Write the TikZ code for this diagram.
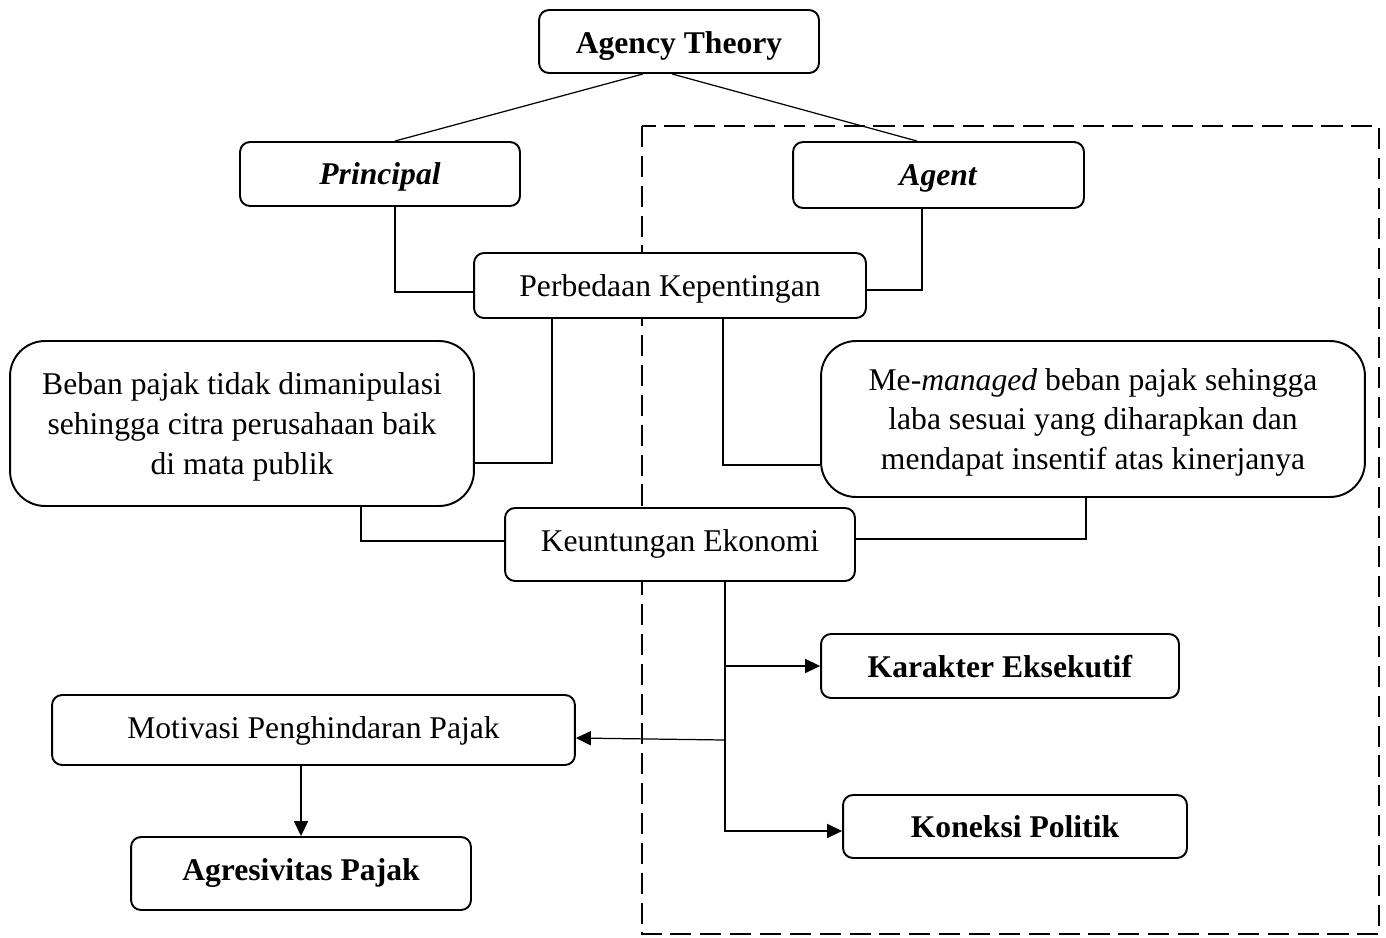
\documentclass[tikz,border=0pt]{standalone}
\usepackage{fontspec}
\setmainfont{Liberation Serif}
\usetikzlibrary{arrows.meta,calc}
\tikzset{
  bx/.style={draw, line width=1.1pt, rounded corners=0.2cm, fill=white, inner sep=0pt, align=center, font=\fontsize{18}{22.7}\selectfont},
  bigbx/.style={bx, rounded corners=0.7cm, text depth=0pt},
  tb/.style={text height=#1, text depth=0pt},
  conn/.style={line width=0.7pt},
  arr/.style={conn, -{Triangle[length=8.5pt,width=8pt]}},
  dashbox/.style={line width=1.5pt, dash pattern=on 12pt off 5pt}
}
\begin{document}
\begin{tikzpicture}[x=0.02cm,y=-0.02cm]
\useasboundingbox (0,0) rectangle (1386,937);
\draw[dashbox] (642,126) rectangle (1379,934);

\node[bx, tb=14.2pt, minimum width=5.6cm, minimum height=1.26cm] (at) at (679,41.5) {\textbf{Agency Theory}};
\node[bx, tb=12.5pt, minimum width=5.6cm, minimum height=1.28cm] (pr) at (380,174) {\textbf{\textit{Principal}}};
\node[bx, tb=11.5pt, minimum width=5.82cm, minimum height=1.32cm] (ag) at (938.5,175) {\textbf{\textit{Agent}}};
\node[bx, tb=13pt, minimum width=7.84cm, minimum height=1.3cm] (pk) at (670,285.5) {Perbedaan Kepentingan};
\node[bigbx, minimum width=9.28cm, minimum height=3.3cm] (bb) at (242,423.5) {Beban pajak tidak dimanipulasi\\sehingga citra perusahaan baik\\di mata publik};
\node[bigbx, minimum width=10.88cm, minimum height=3.12cm] (mm) at (1093,419) {Me-\textit{managed} beban pajak sehingga\\laba sesuai yang diharapkan dan\\mendapat insentif atas kinerjanya};
\node[bx, tb=8.5pt, minimum width=7cm, minimum height=1.46cm] (ke) at (680,544.5) {Keuntungan Ekonomi};
\node[bx, tb=13.6pt, minimum width=7.16cm, minimum height=1.28cm] (kr) at (1000,666) {\textbf{Karakter Eksekutif}};
\node[bx, tb=12.5pt, minimum width=6.88cm, minimum height=1.26cm] (kp) at (1015,826.5) {\textbf{Koneksi Politik}};
\node[bx, tb=9.1pt, minimum width=10.46cm, minimum height=1.4cm] (mo) at (313.5,730) {Motivasi Penghindaran Pajak};
\node[bx, tb=8.5pt, minimum width=6.8cm, minimum height=1.46cm] (agr) at (301,873.5) {\textbf{Agresivitas Pajak}};

\draw[conn] ([xshift=-0.72cm]at.south) -- ([xshift=0.3cm]pr.north);
\draw[conn] ([xshift=-0.14cm]at.south) -- ([xshift=-0.43cm]ag.north);
\draw[conn] ([xshift=0.3cm]pr.south) |- ([yshift=-0.13cm]pk.west);
\draw[conn] ([xshift=-0.33cm]ag.south) |- ([yshift=-0.09cm]pk.east);
\draw[conn] ([xshift=-2.36cm]pk.south) |- ([yshift=-0.79cm]bb.east);
\draw[conn] ([xshift=1.06cm]pk.south) |- ([yshift=-0.92cm]mm.west);
\draw[conn] ([xshift=2.38cm]bb.south) |- ([yshift=0.07cm]ke.west);
\draw[conn] ([xshift=-0.14cm]mm.south) |- ([yshift=0.11cm]ke.east);

\coordinate (k1) at ([xshift=0.9cm]ke.south);
\coordinate (t3) at (725,740);
\draw[arr] (k1) |- ([yshift=-0.09cm]kp.west);
\draw[arr] (k1 |- kr.west) -- (kr.west);
\draw[arr] (t3) -- ([yshift=-0.16cm]mo.east);
\draw[arr] (mo.south -| agr.north) -- (agr.north);
\end{tikzpicture}
\end{document}
